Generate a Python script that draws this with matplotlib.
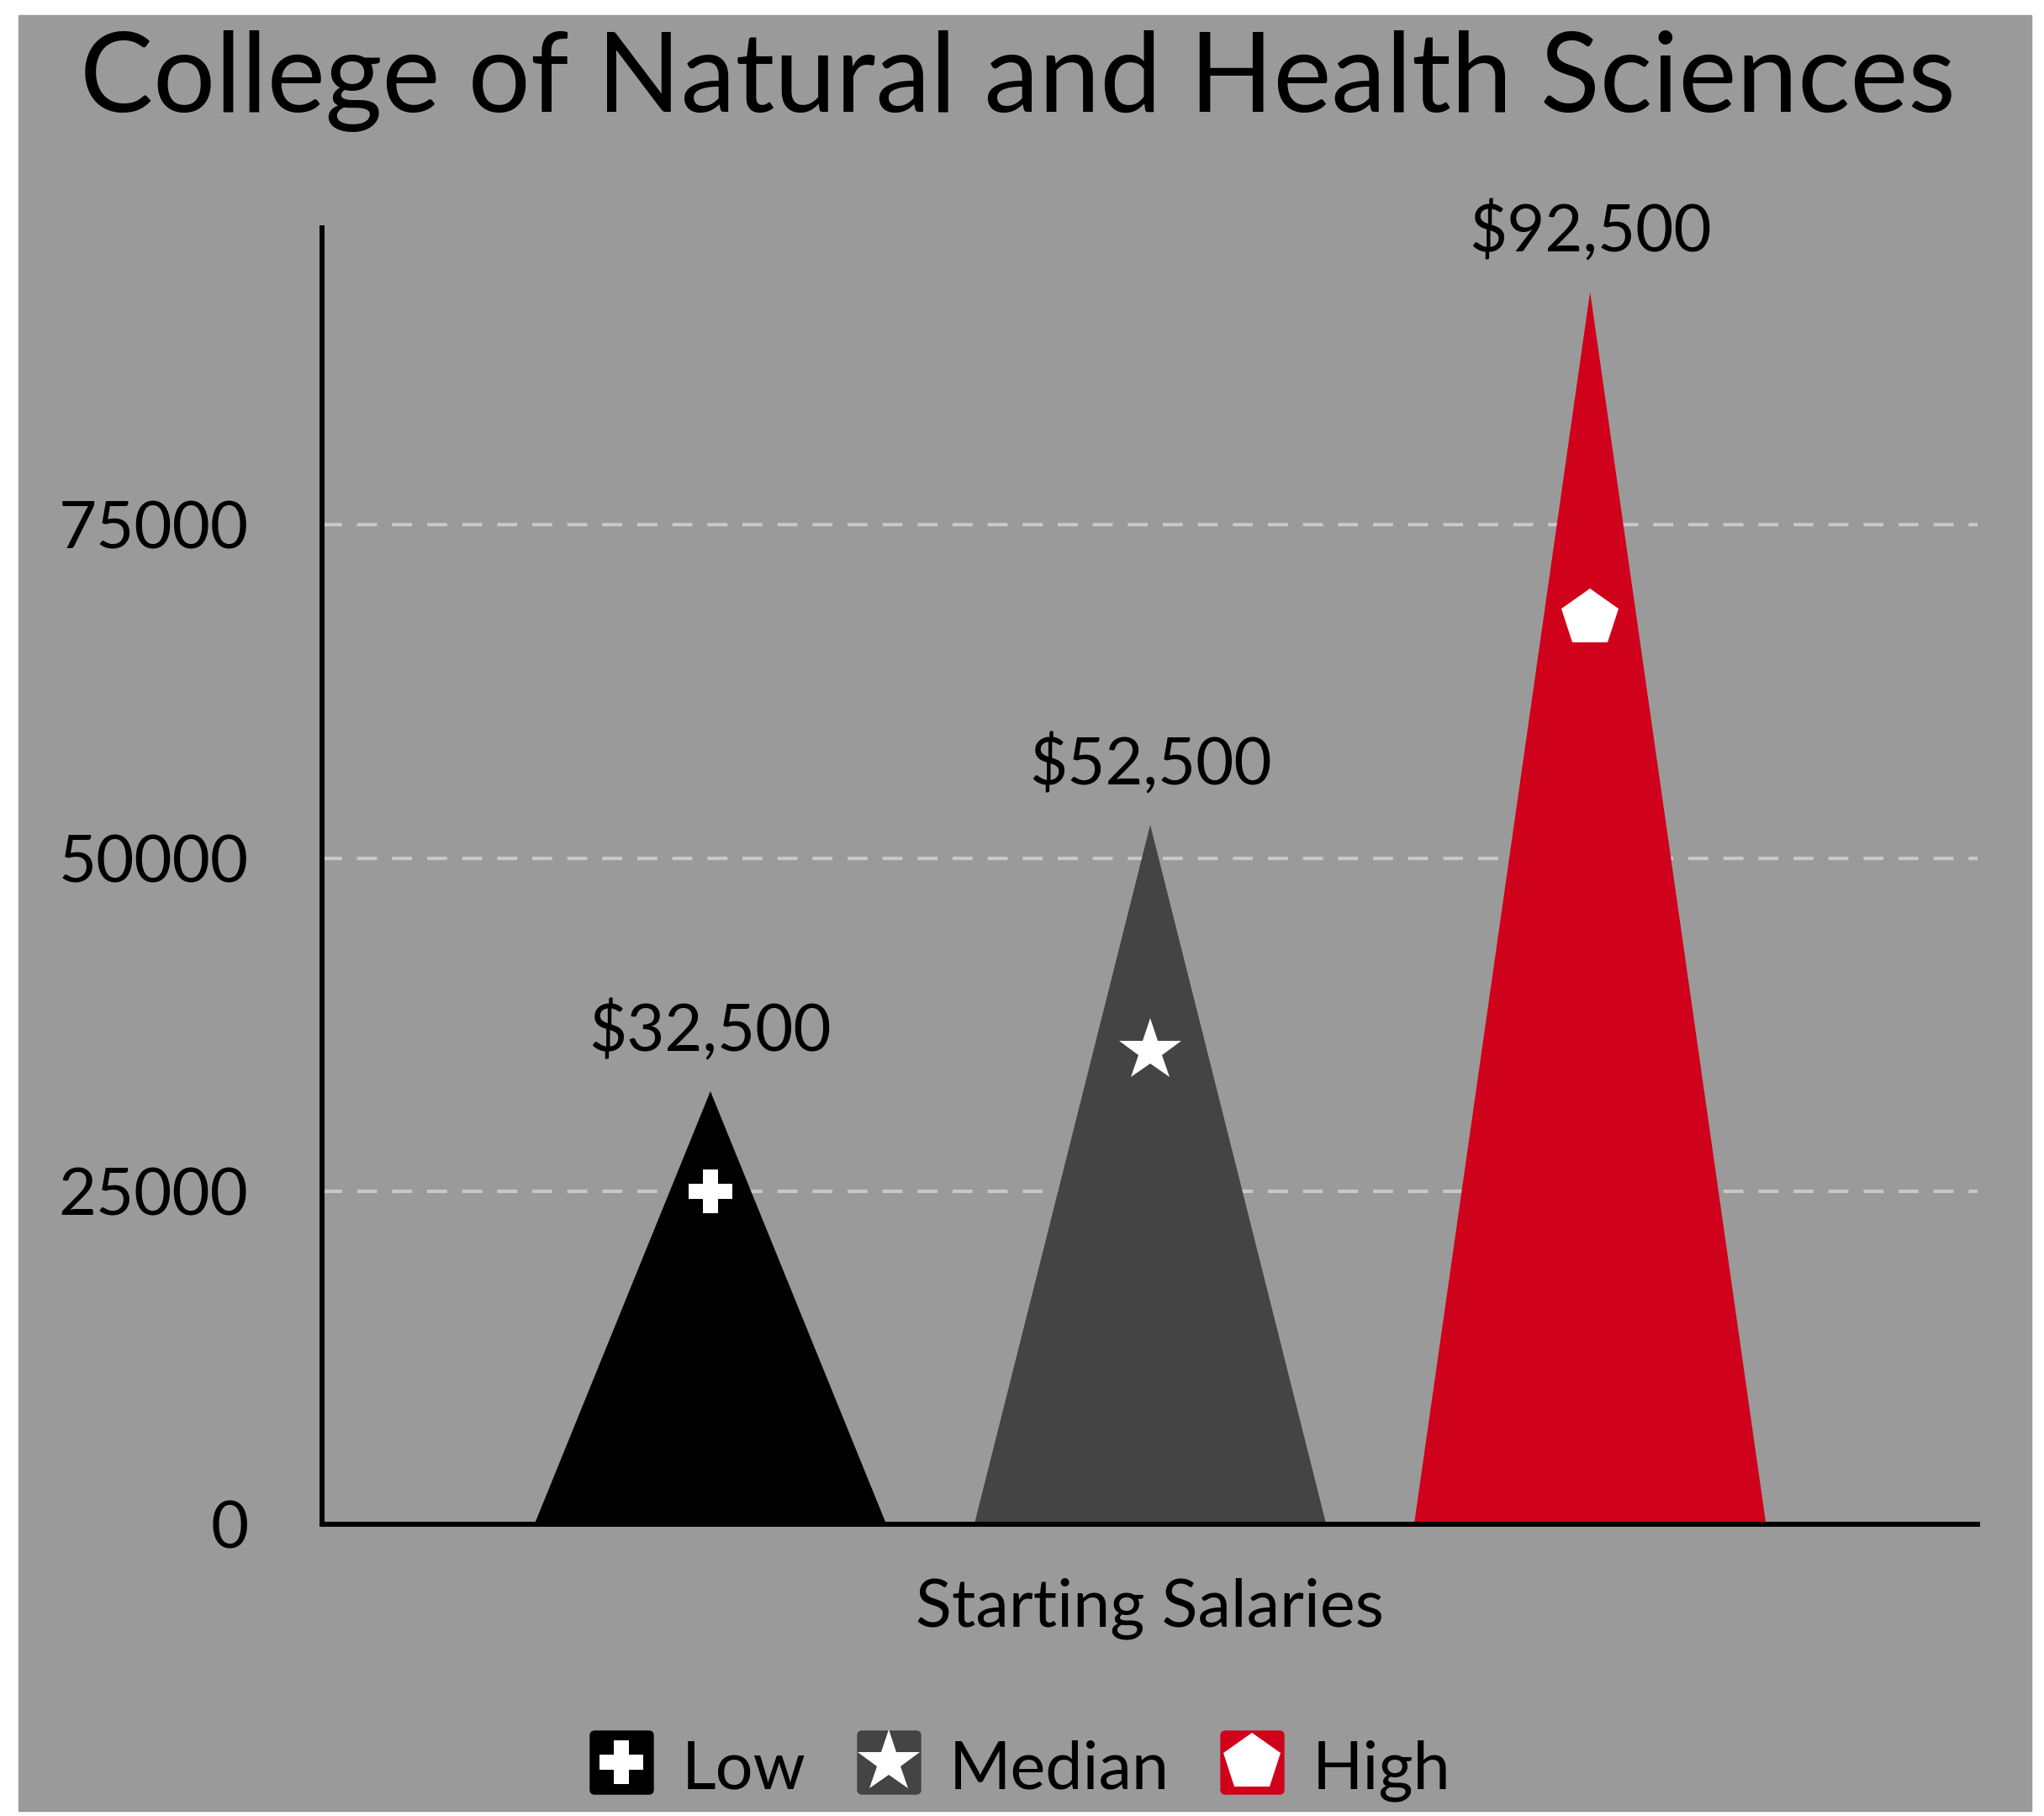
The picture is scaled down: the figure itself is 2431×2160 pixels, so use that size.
import matplotlib
matplotlib.use('Agg')
import matplotlib.pyplot as plt
import matplotlib.patches as mpatches
from matplotlib.lines import Line2D
from matplotlib.legend_handler import HandlerTuple

plt.rcParams['font.family'] = ['Lato', 'DejaVu Sans']

# data
categories = ['Low', 'Median', 'High']
salaries = [32500, 52500, 92500]
symbol_levels = [25000, 35500, 68000]
symbols = ['P', '*', 'p']
symbol_sizes = [37, 56, 51]
colors = ['#000000', '#444444', '#d0021b']
y_ticks = [0, 25000, 50000, 75000]

BG = '#9a9a9a'
W, H = 2431, 2160

fig = plt.figure(figsize=(W / 100, H / 100), dpi=100, facecolor='white')
# grey card behind the chart, white margin around it
fig.patches.append(mpatches.Rectangle((22 / W, 6 / H), 2394 / W, 2136 / H,
                                      transform=fig.transFigure,
                                      color=BG, zorder=-1))

ax = fig.add_axes([383 / W, 1 - 1813 / H, (2352 - 383) / W, (1813 - 271) / H])
ax.set_facecolor('none')
ax.set_zorder(1)

half = 0.4
for i, (value, level, sym, size, color) in enumerate(
        zip(salaries, symbol_levels, symbols, symbol_sizes, colors)):
    ax.fill([i - half, i, i + half], [0, value, 0], color=color,
            lw=0, zorder=2)
    ax.plot(i, level, marker=sym, markersize=size, color='white',
            markeredgewidth=0, linestyle='none', zorder=3)
    ax.annotate('\\$' + format(value, ','), (i, value),
                xytext=(0, 34), textcoords='offset points',
                ha='center', va='baseline', fontsize=56)

ax.set_xlim(-0.883, 2.881)
ax.set_ylim(0, 97300)
ax.set_xticks([])
ax.set_yticks(y_ticks)
ax.set_yticklabels([str(t) for t in y_ticks])
ax.tick_params(axis='y', length=0, pad=63, labelsize=56)

ax.yaxis.grid(True, color='#c8c8c8', lw=3, dashes=(5.7, 4.3))
ax.set_axisbelow(True)

for side in ['top', 'right']:
    ax.spines[side].set_visible(False)
for side in ['left', 'bottom']:
    ax.spines[side].set_linewidth(4.3)
    ax.spines[side].set_color('black')

ax.set_xlabel('Starting Salaries', fontsize=57, labelpad=46)

fig.text(0.498, 1 - 133 / H, 'College of Natural and Health Sciences',
         ha='center', va='baseline', fontsize=94)

# legend: coloured rounded box with the white symbol on top
box = mpatches.FancyBboxPatch((-0.5, -0.5), 1, 1,
                              boxstyle='round,pad=0,rounding_size=0.08').get_path()
handles = []
for sym, size, color in zip(symbols, symbol_sizes, colors):
    back = Line2D([], [], marker=box, markersize=55, color=color,
                  markeredgewidth=0, linestyle='none')
    front = Line2D([], [], marker=sym, markersize=size, color='white',
                   markeredgewidth=0, linestyle='none')
    handles.append((back, front))

fig.legend(handles, categories, loc='center',
           bbox_to_anchor=(0.4987, 1 - 2104 / H), ncol=3, frameon=False,
           fontsize=57, handlelength=1.0, handleheight=1.0,
           handletextpad=0.4, columnspacing=0.75,
           handler_map={tuple: HandlerTuple(ndivide=1, pad=0)})

fig.savefig('out.png', dpi=100, facecolor='white')
